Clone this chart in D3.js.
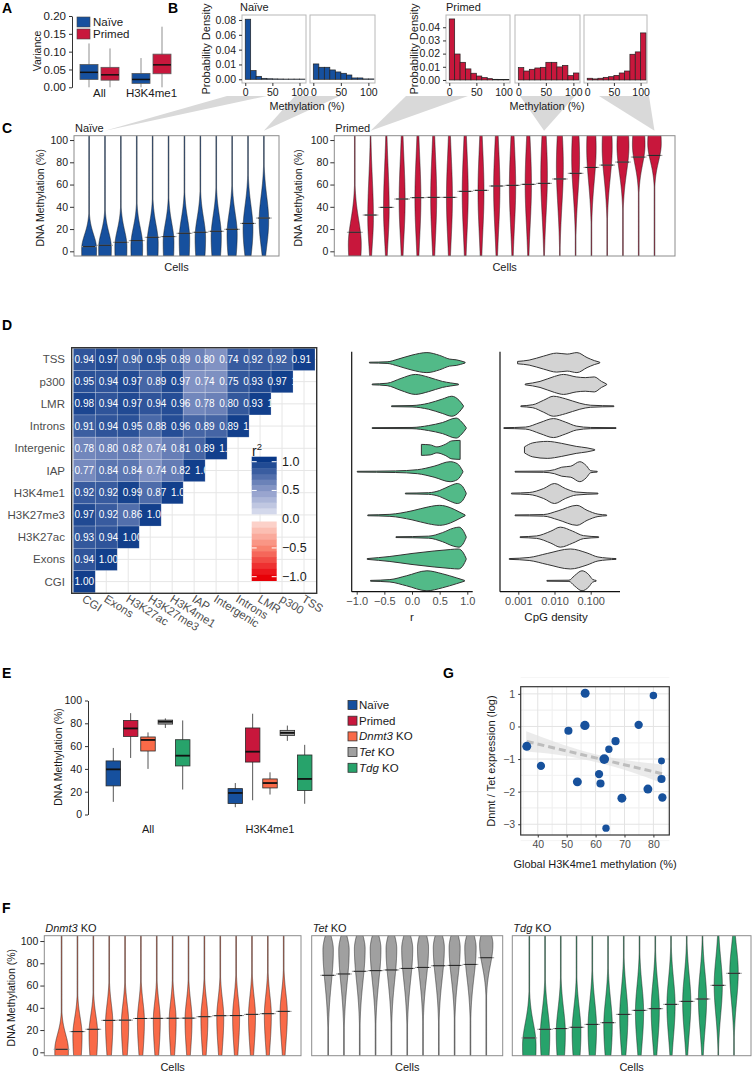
<!DOCTYPE html>
<html>
<head>
<meta charset="utf-8">
<script src="https://cdn.jsdelivr.net/npm/d3@7/dist/d3.min.js"></script>
<style>
  body { margin: 0; background: #fff; }
</style>
</head>
<body>
<script>
// ---------------- data ----------------

// A: variance boxplots, [lower whisker, Q1, median, Q3, upper whisker]
const varianceGroups = ["All", "H3K4me1"];
const cellStates = ["Naïve", "Primed"];
const varianceNaive = [[0, 0.022, 0.042, 0.064, 0.123], [0, 0.011, 0.022, 0.039, 0.082]];
const variancePrimed = [[0, 0.020, 0.035, 0.056, 0.109], [0, 0.038, 0.063, 0.093, 0.170]];
const varianceTicks = [0, 0.05, 0.1, 0.15, 0.2];

// B: methylation histograms
const histBinStarts = [0, 10, 20, 30, 40, 50, 60, 70, 80, 90, 100];
const histBinWidth = 10;
const naiveHist1 = [0.081, 0.0117, 0.004, 0.0013, 0.0007, 0.0005, 0.0004, 0.0003, 0.0003, 0.0003, 0.0003];
const naiveHist2 = [0.0207, 0.0162, 0.0162, 0.0126, 0.0099, 0.0081, 0.0058, 0.0018, 0.0018, 0.0005, 0.0005];
const primedHist1 = [0.0463, 0.0197, 0.0134, 0.0084, 0.0051, 0.003, 0.0018, 0.001, 0.0005, 0.0003, 0.0003];
const primedHist2 = [0.0094, 0.0068, 0.0081, 0.0091, 0.0096, 0.0134, 0.0134, 0.0099, 0.0111, 0.0033, 0.0053];
const primedHist3 = [0.0013, 0.0008, 0.0013, 0.002, 0.0025, 0.0035, 0.0053, 0.0068, 0.0195, 0.0213, 0.0357];
const naiveDensityTicks = [0, 0.02, 0.04, 0.06, 0.08];
const naiveDensityLabels = ["0.00", "0.01", "0.04", "0.06", "0.08"];
const primedDensityTicks = [0, 0.01, 0.02, 0.03, 0.04];
const methylTicks = [0, 50, 100];
const percentTicks = [0, 20, 40, 60, 80, 100];

// C / F: single-cell violins (median, widest value, half width as share of slot, spreads below / above)
const naiveMedians = [4.2, 5.4, 8.1, 9.6, 12.6, 13.2, 16.2, 17.1, 18.0, 19.8, 25.1, 29.9];
const naivePeaks = [2, 3, 4, 5, 7, 8, 11, 12, 13, 15, 20, 27];
const naiveWidths = [0.47, 0.40, 0.38, 0.37, 0.35, 0.34, 0.33, 0.33, 0.32, 0.32, 0.31, 0.30];
const naiveSpreadUp = [13, 14, 15, 16, 17, 17, 18, 18, 19, 19, 21, 22];
const naiveSpreadDown = [40, 40, 40, 40, 38, 36, 35, 32, 30, 28, 25, 22];

const primedMedians = [17.1, 32.6, 39.5, 47.0, 48.2, 48.5, 48.5, 53.9, 54.8, 58.7, 59.3, 60.2, 61.1, 65.0, 70.1, 75.4, 77.5, 80.2, 84.7, 86.2];
const primedPeaks = [6, 30, 38, 45, 47, 48, 48, 52, 53, 56, 58, 60, 68, 76, 84, 93, 94, 95, 96, 97];
const primedWidths = [0.41, 0.18, 0.18, 0.19, 0.19, 0.19, 0.19, 0.19, 0.19, 0.2, 0.2, 0.2, 0.21, 0.22, 0.25, 0.3, 0.32, 0.38, 0.4, 0.43];
const primedSpreadUp = [22, 36, 38, 38, 38, 38, 38, 38, 38, 38, 38, 38, 38, 36, 34, 30, 30, 25, 25, 25];
const primedSpreadDown = [30, 24, 28, 32, 35, 36, 36, 36, 36, 36, 36, 36, 35, 34, 32, 30, 28, 24, 18, 16];

const dnmtMedians = [2.7, 18.6, 20.7, 28.7, 28.9, 30.4, 30.5, 30.6, 30.7, 32.0, 32.9, 33.0, 34.1, 34.7, 36.8];
const dnmtPeaks = [2, 15, 17, 26, 26, 28, 28, 28, 29, 30, 31, 31, 32, 33, 35];
const dnmtWidths = [0.43, 0.29, 0.27, 0.23, 0.23, 0.22, 0.22, 0.22, 0.22, 0.22, 0.22, 0.22, 0.22, 0.22, 0.23];
const dnmtSpreadUp = [14, 16, 16, 17, 17, 17, 17, 17, 17, 17, 17, 18, 18, 18, 18];
const dnmtSpreadDown = [40, 30, 30, 29, 29, 28, 28, 28, 28, 28, 28, 28, 28, 28, 27];

const tetMedians = [69.2, 70.4, 72.8, 73.4, 74.0, 75.4, 76.3, 77.8, 78.1, 79.0, 85.0];
const tetPeaks = [92, 92, 93, 93, 93, 93, 94, 94, 94, 94, 97];
const tetWidths = [0.33, 0.33, 0.34, 0.34, 0.34, 0.35, 0.35, 0.35, 0.35, 0.36, 0.42];
const tetSpreadUp = [12, 12, 12, 12, 12, 12, 12, 12, 12, 12, 12];
const tetSpreadDown = [30, 30, 29, 29, 29, 29, 28, 28, 27, 27, 19];

const tdgMedians = [12.9, 20.7, 21.3, 22.5, 25.1, 26.6, 34.1, 37.7, 39.2, 43.1, 45.8, 47.9, 60.2, 71.0];
const tdgPeaks = [6, 15, 17, 18, 22, 24, 32, 36, 38, 42, 45, 48, 60, 72];
const tdgWidths = [0.43, 0.3, 0.29, 0.28, 0.27, 0.27, 0.26, 0.26, 0.26, 0.26, 0.26, 0.26, 0.26, 0.27];
const tdgSpreadUp = [20, 22, 22, 22, 23, 23, 24, 24, 24, 24, 24, 24, 24, 22];
const tdgSpreadDown = [40, 32, 32, 31, 31, 31, 30, 29, 29, 28, 28, 28, 26, 26];

// D: correlation heatmap (rows top to bottom, lower triangle values)
const heatRows = ["TSS", "p300", "LMR", "Introns", "Intergenic", "IAP", "H3K4me1", "H3K27me3", "H3K27ac", "Exons", "CGI"];
const heatCols = ["CGI", "Exons", "H3K27ac", "H3K27me3", "H3K4me1", "IAP", "Intergenic", "Introns", "LMR", "p300", "TSS"];
const heatValues = [
  [0.94, 0.97, 0.90, 0.95, 0.89, 0.80, 0.74, 0.92, 0.92, 0.91, 1.00],
  [0.95, 0.94, 0.97, 0.89, 0.97, 0.74, 0.75, 0.93, 0.97, 1.00],
  [0.98, 0.94, 0.97, 0.94, 0.96, 0.78, 0.80, 0.93, 1.00],
  [0.91, 0.94, 0.95, 0.88, 0.96, 0.89, 0.89, 1.00],
  [0.78, 0.80, 0.82, 0.74, 0.81, 0.89, 1.00],
  [0.77, 0.84, 0.84, 0.74, 0.82, 1.00],
  [0.92, 0.92, 0.99, 0.87, 1.00],
  [0.97, 0.92, 0.86, 1.00],
  [0.93, 0.94, 1.00],
  [0.94, 1.00],
  [1.00]
];
const legendTicks = [1, 0.5, 0, -0.5, -1];

// D: violin outlines as [value, relative half width] knots, same row order
const rKnots = [
  [[-0.77, 0.04], [-0.45, 0.08], [-0.25, 0.35], [0, 0.75], [0.27, 1], [0.5, 0.72], [0.68, 0.35], [0.8, 0.28], [0.96, 0.04]],
  [[-0.72, 0.04], [-0.45, 0.12], [-0.2, 0.6], [0.06, 1], [0.3, 0.72], [0.55, 0.3], [0.7, 0.15], [0.84, 0.04]],
  [[-0.37, 0.04], [0, 0.07], [0.3, 0.3], [0.55, 0.72], [0.72, 1], [0.85, 0.6], [0.93, 0.04]],
  [[-0.72, 0.04], [0, 0.06], [0.3, 0.25], [0.55, 0.55], [0.8, 1], [0.9, 0.6], [0.98, 0.04]],
  [[0.17, 0.55], [0.33, 0.5], [0.45, 0.3], [0.6, 0.55], [0.72, 0.9], [0.87, 0.95]],
  [[-0.99, 0.04], [-0.3, 0.08], [0.1, 0.2], [0.4, 0.55], [0.69, 1], [0.82, 0.8], [0.92, 0.04]],
  [[-0.12, 0.04], [0.3, 0.08], [0.5, 0.3], [0.7, 0.8], [0.82, 1], [0.9, 0.8], [0.98, 0.04]],
  [[-0.8, 0.04], [-0.4, 0.1], [0, 0.45], [0.3, 0.85], [0.5, 1], [0.7, 0.75], [0.85, 0.35], [0.96, 0.04]],
  [[-0.29, 0.04], [0.3, 0.1], [0.55, 0.45], [0.75, 0.9], [0.85, 1], [0.92, 0.7], [0.98, 0.04]],
  [[-0.81, 0.04], [-0.4, 0.25], [0, 0.55], [0.4, 0.8], [0.7, 0.95], [0.84, 1], [0.93, 0.6], [0.98, 0.04]],
  [[-0.75, 0.04], [-0.4, 0.12], [-0.1, 0.5], [0.27, 1], [0.55, 0.7], [0.8, 0.3], [0.95, 0.04]]
];
// CpG density knots, value given as log10(density)
const cpgKnots = [
  [[-3.02, 0.12], [-2.7, 0.25], [-2.3, 0.65], [-1.94, 0.95], [-1.65, 0.85], [-1.38, 1], [-1.1, 0.5], [-0.9, 0.2], [-0.75, 0.04]],
  [[-2.81, 0.04], [-2.4, 0.3], [-2.0, 0.8], [-1.75, 1], [-1.4, 0.75], [-1.15, 0.68], [-0.9, 0.75], [-0.7, 0.3], [-0.56, 0.04]],
  [[-2.93, 0.04], [-2.6, 0.15], [-2.3, 0.6], [-2.03, 1], [-1.7, 0.75], [-1.3, 0.3], [-1.0, 0.1], [-0.36, 0.04]],
  [[-3.4, 0.04], [-2.8, 0.1], [-2.4, 0.55], [-2.03, 0.95], [-1.7, 0.6], [-1.4, 0.2], [-1.0, 0.06], [-0.3, 0.04]],
  [[-2.83, 0.3], [-2.6, 0.7], [-2.2, 0.85], [-1.8, 0.65], [-1.4, 0.35], [-1.1, 0.2], [-0.89, 0.04]],
  [[-3.09, 0.04], [-2.3, 0.06], [-2.0, 0.2], [-1.8, 0.45], [-1.55, 0.55], [-1.3, 1], [-1.12, 0.6], [-1.0, 0.1], [-0.82, 0.04]],
  [[-3.19, 0.04], [-2.7, 0.1], [-2.3, 0.5], [-2.0, 1], [-1.7, 0.5], [-1.4, 0.15], [-0.8, 0.04]],
  [[-3.09, 0.04], [-2.3, 0.08], [-1.9, 0.45], [-1.38, 1], [-1.1, 0.5], [-0.8, 0.12], [-0.56, 0.04]],
  [[-2.95, 0.04], [-2.5, 0.12], [-2.1, 0.6], [-1.84, 1], [-1.5, 0.6], [-1.2, 0.15], [-0.78, 0.04]],
  [[-3.25, 0.04], [-2.7, 0.15], [-2.2, 0.55], [-1.56, 1], [-1.1, 0.6], [-0.8, 0.2], [-0.3, 0.04]],
  [[-2.21, 0.04], [-1.6, 0.06], [-1.45, 0.5], [-1.24, 1], [-1.05, 0.6], [-0.95, 0.15], [-0.85, 0.04]]
];
const rTicks = [-1, -0.5, 0, 0.5, 1];
const cpgTicks = [0.001, 0.01, 0.1];

// E: methylation boxplots per condition
const methylGroups = ["All", "H3K4me1"];
const conditions = ["Naïve", "Primed", "Dnmt3 KO", "Tet KO", "Tdg KO"];
const conditionItalic = ["", "", "Dnmt3", "Tet", "Tdg"];
const conditionPlain = ["Naïve", "Primed", " KO", " KO", " KO"];
const methylAll = [[11.1, 25.1, 39.6, 47.0, 58.4], [49.6, 68.5, 75.5, 82.5, 88.9], [40.0, 55.7, 65.4, 68.0, 72.0], [75.9, 79.3, 81.4, 82.8, 84.3], [21.9, 42.6, 51.6, 65.6, 82.5]];
const methylK4 = [[6.4, 9.6, 18.9, 22.7, 27.6], [12.5, 46.0, 55.1, 75.9, 88.4], [17.5, 23.3, 27.6, 31.2, 37.0], [64.6, 69.3, 71.6, 73.8, 78.0], [9.4, 21.0, 31.2, 52.2, 61.1]];

// G: expression vs H3K4me1 methylation
const gMethyl = [36.2, 41.1, 50.6, 56.4, 56.3, 53.7, 61.2, 61.7, 64.6, 63.0, 66.9, 69.1, 74.9, 80.0, 78.1, 82.8, 82.8, 83.1, 63.6];
const gExpr = [-0.61, -1.21, -0.13, 1.02, 0.03, -1.70, -1.46, -1.75, -0.70, -1.00, -0.45, -2.20, 0.05, 0.95, -1.92, -1.06, -1.61, -2.18, -3.12];
const gSize = [4.0, 3.4, 3.3, 4.0, 4.3, 4.0, 3.4, 3.3, 2.7, 4.7, 3.3, 4.0, 3.5, 2.8, 4.0, 2.4, 3.3, 3.5, 2.7];
const fitX = [36, 48, 60, 72, 83];
const fitLow = [-0.77, -0.88, -1.09, -1.39, -1.74];
const fitHigh = [-0.15, -0.54, -0.85, -1.05, -1.17];
const fitLineX = [36.2, 83];
const fitLineY = [-0.46, -1.45];
const gXTicks = [40, 50, 60, 70, 80];
const gYTicks = [-3, -2, -1, 0, 1];

// ---------------- drawing ----------------
const FONT = '"Liberation Sans", Arial, Helvetica, sans-serif';
const INK = "#1a1a1a";
const colNaive = "#16509e", colPrimed = "#c8173c", colDnmt = "#f96a48", colTet = "#a0a0a0", colTdg = "#27a36b";

const svg = d3.select("body").append("svg")
  .attr("width", 752).attr("height", 1077)
  .attr("font-family", FONT);
const defs = svg.append("defs");
const backLayer = svg.append("g");

function label(x, y, s, o = {}) {
  const t = svg.append("text").attr("x", x).attr("y", y)
    .attr("font-size", o.size || 11).attr("fill", o.fill || INK)
    .attr("text-anchor", o.anchor || "start");
  if (o.weight) t.attr("font-weight", o.weight);
  if (o.rotate) t.attr("transform", `rotate(${o.rotate},${x},${y})`);
  if (o.italic) {
    t.append("tspan").attr("font-style", "italic").text(o.italic);
    t.append("tspan").text(s);
  } else t.text(s);
  return t;
}

function styleAxis(g, size, color) {
  g.attr("font-family", FONT).attr("font-size", size);
  g.selectAll(".tick line").attr("stroke", "#333");
  g.selectAll(".tick text").attr("fill", color);
  g.select(".domain").attr("stroke", "#333");
  return g;
}

function drawBox(cx, w, s, ys, fill, o) {
  const g = svg.append("g");
  g.append("line").attr("x1", cx).attr("x2", cx).attr("y1", ys(s[0])).attr("y2", ys(s[4]))
    .attr("stroke", o.whisker).attr("stroke-width", 1);
  g.append("rect").attr("x", cx - w / 2).attr("y", ys(s[3])).attr("width", w)
    .attr("height", ys(s[1]) - ys(s[3])).attr("fill", fill)
    .attr("stroke", o.stroke).attr("stroke-width", 0.8);
  g.append("line").attr("x1", cx - w / 2).attr("x2", cx + w / 2)
    .attr("y1", ys(s[2])).attr("y2", ys(s[2]))
    .attr("stroke", "#111").attr("stroke-width", o.medianWidth || 1.5);
}

// panel letters
[["A", 2, 13], ["B", 168, 13], ["C", 2, 133], ["D", 2, 330], ["E", 2, 678], ["F", 2, 913], ["G", 443, 678]]
  .forEach(([s, x, y]) => label(x, y, s, { size: 14, weight: "bold", fill: "#000" }));

// ---- A ----
const aY = d3.scaleLinear().domain([0, 0.2]).range([87.3, 16]);
const aX = d3.scaleBand().domain(varianceGroups).range([73.5, 177.5]);
const aSub = d3.scalePoint().domain(cellStates).range([-10.5, 10.5]);
styleAxis(svg.append("g").attr("transform", "translate(72,0)")
  .call(d3.axisLeft(aY).tickValues(varianceTicks).tickFormat(d3.format(".2f")).tickSize(3).tickSizeOuter(0)), 11.5, INK);
label(41, 51, "Variance", { size: 10.5, anchor: "middle", rotate: -90 });
varianceGroups.forEach((grp, i) => {
  const cx = aX(grp) + aX.bandwidth() / 2;
  drawBox(cx + aSub("Naïve"), 18, varianceNaive[i], aY, colNaive, { stroke: "#5a5a5a", whisker: "#8f8f8f" });
  drawBox(cx + aSub("Primed"), 18, variancePrimed[i], aY, colPrimed, { stroke: "#5a5a5a", whisker: "#8f8f8f" });
  label(cx, 97, grp, { anchor: "middle", size: 11.5 });
});
cellStates.forEach((s, i) => {
  svg.append("rect").attr("x", 77).attr("y", 17 + i * 12).attr("width", 13).attr("height", 10)
    .attr("fill", i ? colPrimed : colNaive).attr("stroke", "#444").attr("stroke-width", 0.6);
  label(93, 26 + i * 12, s, { size: 11.5 });
});

// ---- B ----
const bTop = 15, bBottom = 83;
const naiveDensity = d3.scaleLinear().domain([-0.005, 0.0867]).range([bBottom, bTop]);
const primedDensity = d3.scaleLinear().domain([-0.0023, 0.0493]).range([bBottom, bTop]);

function histPanel(x0, x1, values, ys, color) {
  const xs = d3.scaleLinear().domain([-6, 112]).range([x0, x1]);
  const g = svg.append("g");
  g.append("rect").attr("x", x0).attr("y", bTop).attr("width", x1 - x0).attr("height", bBottom - bTop)
    .attr("fill", "#fff").attr("stroke", "#b8b8b8").attr("stroke-width", 1);
  g.selectAll("rect.bar").data(values).join("rect").attr("class", "bar")
    .attr("x", (d, i) => xs(histBinStarts[i]))
    .attr("width", (d, i) => xs(histBinStarts[i] + histBinWidth) - xs(histBinStarts[i]))
    .attr("y", d => ys(d)).attr("height", d => ys(0) - ys(d))
    .attr("fill", color).attr("stroke", "#222").attr("stroke-width", 0.7);
  const ax = styleAxis(g.append("g").attr("transform", `translate(0,${bBottom})`)
    .call(d3.axisBottom(xs).tickValues(methylTicks).tickSize(3).tickSizeOuter(0)), 10.5, INK);
  ax.select(".domain").remove();
  return { x0, x1 };
}
const bNaive1 = histPanel(242, 306, naiveHist1, naiveDensity, colNaive);
const bNaive2 = histPanel(310, 375, naiveHist2, naiveDensity, colNaive);
const bPrimed1 = histPanel(446, 510, primedHist1, primedDensity, colPrimed);
const bPrimed2 = histPanel(515, 580, primedHist2, primedDensity, colPrimed);
const bPrimed3 = histPanel(584, 647, primedHist3, primedDensity, colPrimed);
styleAxis(svg.append("g").attr("transform", "translate(242,0)")
  .call(d3.axisLeft(naiveDensity).tickValues(naiveDensityTicks).tickFormat((d, i) => naiveDensityLabels[i]).tickSize(3)), 10.5, INK)
  .select(".domain").remove();
styleAxis(svg.append("g").attr("transform", "translate(446,0)")
  .call(d3.axisLeft(primedDensity).tickValues(primedDensityTicks).tickFormat(d3.format(".2f")).tickSize(3)), 10.5, INK)
  .select(".domain").remove();
label(240, 11, "Naïve", { size: 11 });
label(446, 11, "Primed", { size: 11 });
label(210, 49, "Probability Density", { size: 11, anchor: "middle", rotate: -90 });
label(418, 49, "Probability Density", { size: 11, anchor: "middle", rotate: -90 });
label(307, 110, "Methylation (%)", { size: 10.8, anchor: "middle" });
label(547, 110, "Methylation (%)", { size: 10.8, anchor: "middle" });

// ---- C / F violins ----
let clipCount = 0;
function violinPanel(cfg) {
  const g = svg.append("g");
  const ys = d3.scaleLinear().domain(cfg.yDomain).range([cfg.y1, cfg.y0]);
  const xs = d3.scalePoint().domain(d3.range(cfg.medians.length)).range([cfg.x0, cfg.x1]).padding(cfg.pad);
  const step = xs.step();
  const id = "vclip" + (clipCount++);
  defs.append("clipPath").attr("id", id).append("rect")
    .attr("x", cfg.x0).attr("y", cfg.y0).attr("width", cfg.x1 - cfg.x0).attr("height", cfg.y1 - cfg.y0);
  g.append("rect").attr("x", cfg.x0).attr("y", cfg.y0).attr("width", cfg.x1 - cfg.x0).attr("height", cfg.y1 - cfg.y0)
    .attr("fill", "#fff");
  const body = g.append("g").attr("clip-path", `url(#${id})`);
  const samples = d3.range(cfg.yDomain[0], cfg.yDomain[1] + 0.5, 0.5);
  const area = d3.area().y(d => ys(d[0])).x0(d => d[2] - d[1]).x1(d => d[2] + d[1]);
  cfg.medians.forEach((m, i) => {
    const cx = xs(i);
    const pts = samples.map(v => {
      const s = v < cfg.peaks[i] ? cfg.down[i] : cfg.up[i];
      const z = (v - cfg.peaks[i]) / s;
      return [v, Math.max(0.35, cfg.widths[i] * step * Math.exp(-z * z / 2)), cx];
    });
    body.append("path").attr("d", area(pts))
      .attr("fill", cfg.color).attr("stroke", "#1a1a1a").attr("stroke-width", 0.5);
  });
  cfg.medians.forEach((m, i) => {
    const cx = xs(i), y = ys(m);
    body.append("line").attr("x1", cx - step * 0.5).attr("x2", cx + step * 0.5).attr("y1", y).attr("y2", y)
      .attr("stroke", "#9b9b9b").attr("stroke-width", 1);
    body.append("line").attr("x1", cx - step * 0.38).attr("x2", cx + step * 0.38).attr("y1", y).attr("y2", y)
      .attr("stroke", "#111").attr("stroke-width", 0.9);
  });
  g.append("rect").attr("x", cfg.x0).attr("y", cfg.y0).attr("width", cfg.x1 - cfg.x0).attr("height", cfg.y1 - cfg.y0)
    .attr("fill", "none").attr("stroke", "#8c8c8c").attr("stroke-width", 1);
  if (cfg.yAxis) {
    styleAxis(g.append("g").attr("transform", `translate(${cfg.x0},0)`)
      .call(d3.axisLeft(ys).tickValues(percentTicks).tickSize(4).tickPadding(2)), 10.5, INK)
      .select(".domain").remove();
    label(cfg.yLabelX, (cfg.y0 + cfg.y1) / 2 + 2, "DNA Methylation (%)", { size: 10.5, anchor: "middle", rotate: -90 });
  }
  label(cfg.x0 + 1, cfg.y0 - 4, cfg.title, { size: 11, italic: cfg.italic });
  label((cfg.x0 + cfg.x1) / 2, cfg.y1 + 15, "Cells", { size: 11, anchor: "middle" });
  return { xs, ys };
}

const cTop = 135.7, cBottom = 256;
const cNaive = violinPanel({
  x0: 74, x1: 279, y0: cTop, y1: cBottom, yDomain: [-4.2, 103.9], pad: 0.95,
  medians: naiveMedians, peaks: naivePeaks, widths: naiveWidths, up: naiveSpreadUp, down: naiveSpreadDown,
  color: colNaive, title: "Naïve", yAxis: true, yLabelX: 44
});
const cPrimed = violinPanel({
  x0: 334.3, x1: 675, y0: cTop, y1: cBottom, yDomain: [-4.2, 103.9], pad: 1.3,
  medians: primedMedians, peaks: primedPeaks, widths: primedWidths, up: primedSpreadUp, down: primedSpreadDown,
  color: colPrimed, title: "Primed", yAxis: true, yLabelX: 302
});

// grey call-out wedges from histograms to single cells
const wedges = [
  { base: [bNaive1.x0 - 15, bNaive1.x0 + 25], to: cNaive.xs(1) },
  { base: [bNaive2.x0 - 15, bNaive2.x0 + 30], to: cNaive.xs(11) },
  { base: [bPrimed1.x0 - 40, bPrimed1.x0 + 22], to: cPrimed.xs(1) },
  { base: [bPrimed2.x0 + 5, bPrimed2.x0 + 60], to: cPrimed.xs(12) },
  { base: [bPrimed3.x0 + 15, bPrimed3.x0 + 65], to: cPrimed.xs(19) }
];
backLayer.selectAll("path").data(wedges).join("path")
  .attr("d", d => `M${d.base[0]},96L${d.base[1]},96L${d.to},${cTop - 5}Z`)
  .attr("fill", "#d9d9d9");

const fTop = 935.7, fBottom = 1055.7, fDomain = [-3.05, 104.8];
violinPanel({
  x0: 44.3, x1: 301, y0: fTop, y1: fBottom, yDomain: fDomain, pad: 1.09,
  medians: dnmtMedians, peaks: dnmtPeaks, widths: dnmtWidths, up: dnmtSpreadUp, down: dnmtSpreadDown,
  color: colDnmt, title: " KO", italic: "Dnmt3", yAxis: true, yLabelX: 15
});
violinPanel({
  x0: 311.7, x1: 502.7, y0: fTop, y1: fBottom, yDomain: fDomain, pad: 1.04,
  medians: tetMedians, peaks: tetPeaks, widths: tetWidths, up: tetSpreadUp, down: tetSpreadDown,
  color: colTet, title: " KO", italic: "Tet"
});
violinPanel({
  x0: 512.3, x1: 751, y0: fTop, y1: fBottom, yDomain: fDomain, pad: 1.08,
  medians: tdgMedians, peaks: tdgPeaks, widths: tdgWidths, up: tdgSpreadUp, down: tdgSpreadDown,
  color: colTdg, title: " KO", italic: "Tdg"
});

// ---- D heatmap ----
const hmFrame = { x0: 71.7, x1: 316.7, y0: 347.7, y1: 593.3 };
const hmX = d3.scaleBand().domain(heatCols).range([73.3, 315]);
const hmY = d3.scaleBand().domain(heatRows).range([348.3, 592.7]);
const cw = hmX.bandwidth(), ch = hmY.bandwidth();
const hmLabelX = d3.scaleBand().domain(heatCols).range([73.3, 73.3 + heatCols.length * cw * 1.097]);
const blueScale = d3.scaleLinear().domain([0, 0.5, 1]).range(["#eef0f8", "#8d9bc9", "#123f8c"]);
const redScale = d3.scaleLinear().domain([0, 0.5, 1]).range(["#fde3dd", "#f8836f", "#e8000b"]);

const hm = svg.append("g");
hm.append("rect").attr("x", hmFrame.x0).attr("y", hmFrame.y0)
  .attr("width", hmFrame.x1 - hmFrame.x0).attr("height", hmFrame.y1 - hmFrame.y0).attr("fill", "#fff");
heatCols.forEach(c => hm.append("line").attr("x1", hmX(c) + cw / 2).attr("x2", hmX(c) + cw / 2)
  .attr("y1", hmFrame.y0).attr("y2", hmFrame.y1).attr("stroke", "#e6e6e6").attr("stroke-width", 1));
heatRows.forEach(r => hm.append("line").attr("y1", hmY(r) + ch / 2).attr("y2", hmY(r) + ch / 2)
  .attr("x1", hmFrame.x0).attr("x2", hmFrame.x1).attr("stroke", "#e6e6e6").attr("stroke-width", 1));
heatRows.forEach((r, i) => {
  const vals = heatValues[i];
  defs.append("clipPath").attr("id", "hmrow" + i).append("rect")
    .attr("x", hmX(heatCols[0])).attr("y", hmY(r)).attr("width", cw * vals.length).attr("height", ch);
  vals.forEach((v, j) => {
    hm.append("rect").attr("x", hmX(heatCols[j])).attr("y", hmY(r)).attr("width", cw).attr("height", ch)
      .attr("fill", blueScale(v * v)).attr("stroke", "rgba(255,255,255,0.35)").attr("stroke-width", 0.6);
  });
  const tg = hm.append("g").attr("clip-path", `url(#hmrow${i})`);
  vals.forEach((v, j) => {
    tg.append("text").attr("x", hmLabelX(heatCols[j]) + cw / 2).attr("y", hmY(r) + ch / 2 + 3.5)
      .attr("text-anchor", "middle").attr("font-size", 10).attr("fill", "#fff").text(v.toFixed(2));
  });
  label(65, hmY(r) + ch / 2 + 4, r, { size: 11.5, anchor: "end", fill: "#4d4d4d" });
});
heatCols.forEach(c => {
  const x = hmX(c) + cw / 2 - 3, y = 601;
  svg.append("text").attr("x", x).attr("y", y).attr("font-size", 11.5).attr("fill", "#4d4d4d")
    .attr("transform", `rotate(32,${x},${y})`).text(c);
});

// colour legend
const legY = d3.scaleLinear().domain([-1, 1]).range([576.7, 461.7]);
const legX0 = 251.7, legX1 = 276.7;
const legendGroup = svg.append("g");
d3.range(10).forEach(k => {
  const a = 0.09 + k * 0.0997, b = a + 0.0997;
  legendGroup.append("rect").attr("x", legX0).attr("width", legX1 - legX0)
    .attr("y", legY(b)).attr("height", legY(a) - legY(b) + 0.3).attr("fill", blueScale((a + b) / 2));
  const c = -0.04 - k * 0.103, d = c - 0.103;
  legendGroup.append("rect").attr("x", legX0).attr("width", legX1 - legX0)
    .attr("y", legY(c)).attr("height", legY(d) - legY(c) + 0.3).attr("fill", redScale(-(c + d) / 2));
});
legendTicks.filter(v => v !== 0).forEach(v => {
  legendGroup.append("line").attr("x1", legX0).attr("x2", legX0 + 5).attr("y1", legY(v)).attr("y2", legY(v))
    .attr("stroke", "#fff").attr("stroke-width", 1);
  legendGroup.append("line").attr("x1", legX1 - 5).attr("x2", legX1).attr("y1", legY(v)).attr("y2", legY(v))
    .attr("stroke", "#fff").attr("stroke-width", 1);
});
legendTicks.forEach(v => label(282, legY(v) + 4, d3.format(".1f")(v), { size: 12.5 }));
const r2 = svg.append("text").attr("x", 252).attr("y", 456).attr("font-size", 14).attr("fill", INK);
r2.append("tspan").text("r");
r2.append("tspan").attr("dy", -6).attr("font-size", 9.5).text("2");
hm.append("rect").attr("x", hmFrame.x0).attr("y", hmFrame.y0)
  .attr("width", hmFrame.x1 - hmFrame.x0).attr("height", hmFrame.y1 - hmFrame.y0)
  .attr("fill", "none").attr("stroke", "#333").attr("stroke-width", 1.4);

// ---- D violins ----
const dTop = 351.7, dBottom = 591.7;
const rowY = d3.scaleBand().domain(heatRows).range([dTop, dBottom]);
const violinHalf = 10;

function knotViolins(xs, knots, toValue, color, axisX0, axisX1) {
  const g = svg.append("g");
  const area = d3.area().curve(d3.curveMonotoneX)
    .x(d => xs(toValue(d[0]))).y0(d => d[2] - d[1] * violinHalf).y1(d => d[2] + d[1] * violinHalf);
  heatRows.forEach((r, i) => {
    const cy = rowY(r) + rowY.bandwidth() / 2;
    g.append("path").attr("d", area(knots[i].map(k => [k[0], k[1], cy])))
      .attr("fill", color).attr("stroke", "#333").attr("stroke-width", 1);
  });
  g.append("line").attr("x1", axisX0).attr("x2", axisX0).attr("y1", dTop).attr("y2", dBottom)
    .attr("stroke", "#111").attr("stroke-width", 1.2);
  g.append("line").attr("x1", axisX0).attr("x2", axisX1).attr("y1", dBottom).attr("y2", dBottom)
    .attr("stroke", "#111").attr("stroke-width", 1.2);
  return g;
}
const rX = d3.scaleLinear().domain([-1, 1]).range([356.7, 467.3]);
knotViolins(rX, rKnots, v => v, "#52ba88", 351.7, 472.7);
styleAxis(svg.append("g").attr("transform", `translate(0,${dBottom})`)
  .call(d3.axisBottom(rX).tickValues(rTicks).tickFormat(d3.format(".1f")).tickSize(3)), 11, "#4d4d4d")
  .select(".domain").remove();
label(412, 621, "r", { size: 11.5, anchor: "middle" });

const cpgX = d3.scaleLog().domain([Math.pow(10, -3.506), Math.pow(10, -0.19)]).range([500, 620]);
knotViolins(cpgX, cpgKnots, v => Math.pow(10, v), "#d3d3d3", 500, 620);
styleAxis(svg.append("g").attr("transform", `translate(0,${dBottom})`)
  .call(d3.axisBottom(cpgX).tickValues(cpgTicks).tickFormat(d3.format(".3f")).tickSize(3)), 11, "#4d4d4d")
  .select(".domain").remove();
label(556, 621, "CpG density", { size: 11.5, anchor: "middle" });

// ---- E ----
const eY = d3.scaleLinear().domain([0, 100]).range([814.5, 700.5]);
const eX = d3.scaleBand().domain(methylGroups).range([87, 331]);
const eSub = d3.scalePoint().domain(conditions).range([-34.7, 34.7]);
const condColors = [colNaive, colPrimed, colDnmt, colTet, colTdg];
styleAxis(svg.append("g").attr("transform", "translate(88,0)")
  .call(d3.axisLeft(eY).tickValues(percentTicks).tickSize(3).tickSizeOuter(0)), 10.5, INK);
label(62, 757, "DNA Methylation (%)", { size: 10.5, anchor: "middle", rotate: -90 });
methylGroups.forEach((grp, gi) => {
  const cx = eX(grp) + eX.bandwidth() / 2;
  const stats = gi ? methylK4 : methylAll;
  conditions.forEach((c, i) => drawBox(cx + eSub(c), 14.5, stats[i], eY, condColors[i],
    { stroke: "#2b2b2b", whisker: "#555", medianWidth: 1.8 }));
  label(cx, 833, grp, { size: 11, anchor: "middle" });
});
conditions.forEach((c, i) => {
  const y = 705 + i * 15.7;
  svg.append("rect").attr("x", 348).attr("y", y - 4.5).attr("width", 9).attr("height", 9)
    .attr("fill", condColors[i]).attr("stroke", "#333").attr("stroke-width", 0.8);
  label(359, y + 4, conditionPlain[i], { size: 11.5, italic: conditionItalic[i] || undefined });
});

// ---- G ----
const gFrame = { x0: 520.7, x1: 669.3, y0: 686.7, y1: 835 };
const gXs = d3.scaleLinear().domain([34.1, 85.5]).range([gFrame.x0, gFrame.x1]);
const gYs = d3.scaleLinear().domain([-3.33, 1.22]).range([gFrame.y1, gFrame.y0]);
const gg = svg.append("g");
gg.append("rect").attr("x", gFrame.x0).attr("y", gFrame.y0).attr("width", gFrame.x1 - gFrame.x0)
  .attr("height", gFrame.y1 - gFrame.y0).attr("fill", "#fff");
gXTicks.forEach(t => {
  [t - 5, t + 5].forEach(m => gg.append("line").attr("x1", gXs(m)).attr("x2", gXs(m))
    .attr("y1", gFrame.y0).attr("y2", gFrame.y1).attr("stroke", "#f0f0f0").attr("stroke-width", 0.7));
});
gYTicks.forEach(t => {
  [t - 0.5, t + 0.5].forEach(m => gg.append("line").attr("y1", gYs(m)).attr("y2", gYs(m))
    .attr("x1", gFrame.x0).attr("x2", gFrame.x1).attr("stroke", "#f0f0f0").attr("stroke-width", 0.7));
});
gXTicks.forEach(t => gg.append("line").attr("x1", gXs(t)).attr("x2", gXs(t))
  .attr("y1", gFrame.y0).attr("y2", gFrame.y1).attr("stroke", "#e3e3e3").attr("stroke-width", 1));
gYTicks.forEach(t => gg.append("line").attr("y1", gYs(t)).attr("y2", gYs(t))
  .attr("x1", gFrame.x0).attr("x2", gFrame.x1).attr("stroke", "#e3e3e3").attr("stroke-width", 1));
gg.append("path")
  .attr("d", d3.area().curve(d3.curveNatural).x((d, i) => gXs(fitX[i])).y0((d, i) => gYs(fitLow[i])).y1((d, i) => gYs(fitHigh[i]))(fitX))
  .attr("fill", "#e2e2e2").attr("opacity", 0.7);
gg.append("line").attr("x1", gXs(fitLineX[0])).attr("x2", gXs(fitLineX[1]))
  .attr("y1", gYs(fitLineY[0])).attr("y2", gYs(fitLineY[1]))
  .attr("stroke", "#bdbdbd").attr("stroke-width", 3).attr("stroke-dasharray", "7,4");
const gR = d3.scaleSqrt().domain([0, 5]).range([0, 5]);
gg.selectAll("circle").data(gMethyl).join("circle")
  .attr("cx", d => gXs(d)).attr("cy", (d, i) => gYs(gExpr[i])).attr("r", (d, i) => gR(gSize[i]))
  .attr("fill", "#17519c");
gg.append("rect").attr("x", gFrame.x0).attr("y", gFrame.y0).attr("width", gFrame.x1 - gFrame.x0)
  .attr("height", gFrame.y1 - gFrame.y0).attr("fill", "none").attr("stroke", "#333").attr("stroke-width", 1.2);
styleAxis(svg.append("g").attr("transform", `translate(0,${gFrame.y1})`)
  .call(d3.axisBottom(gXs).tickValues(gXTicks).tickFormat(d3.format("d")).tickSize(2.5)), 10.5, "#4d4d4d").select(".domain").remove();
styleAxis(svg.append("g").attr("transform", `translate(${gFrame.x0},0)`)
  .call(d3.axisLeft(gYs).tickValues(gYTicks).tickFormat(d3.format("d")).tickSize(2.5)), 10.5, "#4d4d4d").select(".domain").remove();
label(595, 868, "Global H3K4me1 methylation (%)", { size: 11, anchor: "middle" });
label(495, 761, "Dnmt / Tet expression (log)", { size: 11, anchor: "middle", rotate: -90 });
</script>
</body>
</html>
